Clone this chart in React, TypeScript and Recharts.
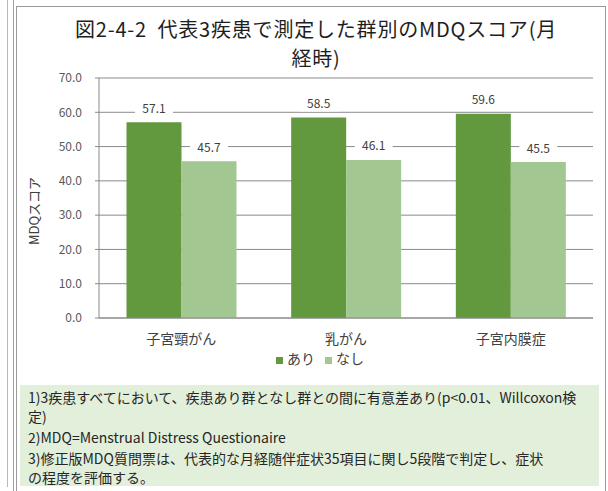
import React from 'react';
import { BarChart, Bar, XAxis, YAxis, CartesianGrid, Legend, LabelList } from 'recharts';

// 代表3疾患で測定した群別のMDQスコア(月経時)
const categories = ['子宮頸がん', '乳がん', '子宮内膜症'];
const withDisease = [57.1, 58.5, 59.6];
const withoutDisease = [45.7, 46.1, 45.5];
const yTicks = [0, 10, 20, 30, 40, 50, 60, 70];
const seriesNames = ['あり', 'なし'];
const titleLines = ['図2-4-2  代表3疾患で測定した群別のMDQスコア(月', '経時)'];
const noteLines = [
  ['1)3疾患すべてにおいて、疾患あり群となし群との間に有意差あり(p<0.01、Willcoxon検', '定)'],
  ['2)MDQ=Menstrual Distress Questionaire'],
  ['3)修正版MDQ質問票は、代表的な月経随伴症状35項目に関し5段階で判定し、症状', 'の程度を評価する。'],
];

const COLORS = {
  ari: '#62993E',
  nashi: '#A3C790',
  grid: '#8A8A8A',
  text: '#404040',
};

const FONT = "'Noto Sans CJK JP', 'Noto Sans', sans-serif";

const data = categories.map((category, i) => ({
  category,
  ari: withDisease[i],
  nashi: withoutDisease[i],
}));

function renderValueLabel(props: any) {
  const { x, y, width, value } = props;
  const cx = Number(x) + Number(width) / 2;
  const cy = Number(y) - 15;
  return (
    <g>
      <rect x={cx - 19} y={cy - 9} width={38} height={18} fill="#fff" />
      <text x={cx} y={cy} textAnchor="middle" dominantBaseline="central" fontSize={12} fill={COLORS.text}>
        {Number(value).toFixed(1)}
      </text>
    </g>
  );
}

function renderYLabel(props: any) {
  const { viewBox } = props;
  const x = viewBox.x + 4;
  const y = viewBox.y + viewBox.height / 2 + 13;
  return (
    <text
      transform={`translate(${x},${y}) rotate(-90)`}
      textAnchor="middle"
      dominantBaseline="central"
      fontSize={13}
      fill={COLORS.text}
    >
      MDQスコア
    </text>
  );
}

export default function App() {
  return (
    <div
      style={{
        position: 'absolute',
        left: 0,
        top: 0,
        width: 608,
        height: 491,
        overflow: 'hidden',
        background: '#fff',
        fontFamily: FONT,
      }}
    >
      {/* neighbouring panel edges */}
      <div style={{ position: 'absolute', left: 7, top: 0, width: 1, height: 487, background: '#B8B8B8' }} />
      <div style={{ position: 'absolute', left: 13, top: 0, width: 1, height: 491, background: '#A0A0A0' }} />
      <div
        style={{
          position: 'absolute',
          left: 16,
          top: 6,
          width: 590,
          height: 500,
          border: '1px solid #9A9A9A',
          boxSizing: 'border-box',
        }}
      />

      <div
        style={{
          position: 'absolute',
          left: 16,
          top: 14,
          width: 600,
          textAlign: 'center',
          fontSize: 20,
          letterSpacing: 0.8,
          lineHeight: '29px',
          color: '#1E1E1E',
          whiteSpace: 'pre',
        }}
      >
        {titleLines.map((line) => (
          <div key={line}>{line}</div>
        ))}
      </div>

      <div style={{ position: 'absolute', left: 0, top: 0 }}>
        <BarChart
          width={608}
          height={368}
          data={data}
          margin={{ top: 78, right: 15, left: 29, bottom: 0 }}
          barCategoryGap="16.7%"
          barGap={0}
        >
          <CartesianGrid vertical={false} stroke={COLORS.grid} />
          <XAxis
            dataKey="category"
            height={30}
            tickLine={false}
            tickMargin={10}
            axisLine={{ stroke: COLORS.grid }}
            tick={{ fontSize: 14, fill: COLORS.text }}
          />
          <YAxis
            width={70}
            domain={[0, 70]}
            ticks={yTicks}
            tickFormatter={(v: number) => v.toFixed(1)}
            tickSize={4}
            tickMargin={13}
            axisLine={{ stroke: COLORS.grid }}
            tickLine={{ stroke: COLORS.grid }}
            tick={{ fontSize: 12, fill: '#595959' }}
            label={{ content: renderYLabel }}
          />
          <Legend
            height={20}
            iconType="square"
            iconSize={7}
            wrapperStyle={{ left: 230, width: 190, fontSize: 14 }}
            formatter={(value: string) => <span style={{ color: COLORS.text }}>{value}</span>}
          />
          <Bar dataKey="ari" name={seriesNames[0]} fill={COLORS.ari} isAnimationActive={false}>
            <LabelList dataKey="ari" content={renderValueLabel} />
          </Bar>
          <Bar dataKey="nashi" name={seriesNames[1]} fill={COLORS.nashi} isAnimationActive={false}>
            <LabelList dataKey="nashi" content={renderValueLabel} />
          </Bar>
        </BarChart>
      </div>

      <div
        style={{
          position: 'absolute',
          left: 20,
          top: 385,
          width: 579,
          height: 101,
          background: '#E2EFDA',
          boxSizing: 'border-box',
          padding: '3px 0 0 8px',
          fontSize: 14,
          lineHeight: '19px',
          color: '#262626',
          whiteSpace: 'pre',
        }}
      >
        {noteLines.map((para, i) => (
          <div key={i} style={{ marginBottom: 2 }}>
            {para.map((line) => (
              <div key={line}>{line}</div>
            ))}
          </div>
        ))}
      </div>
    </div>
  );
}
